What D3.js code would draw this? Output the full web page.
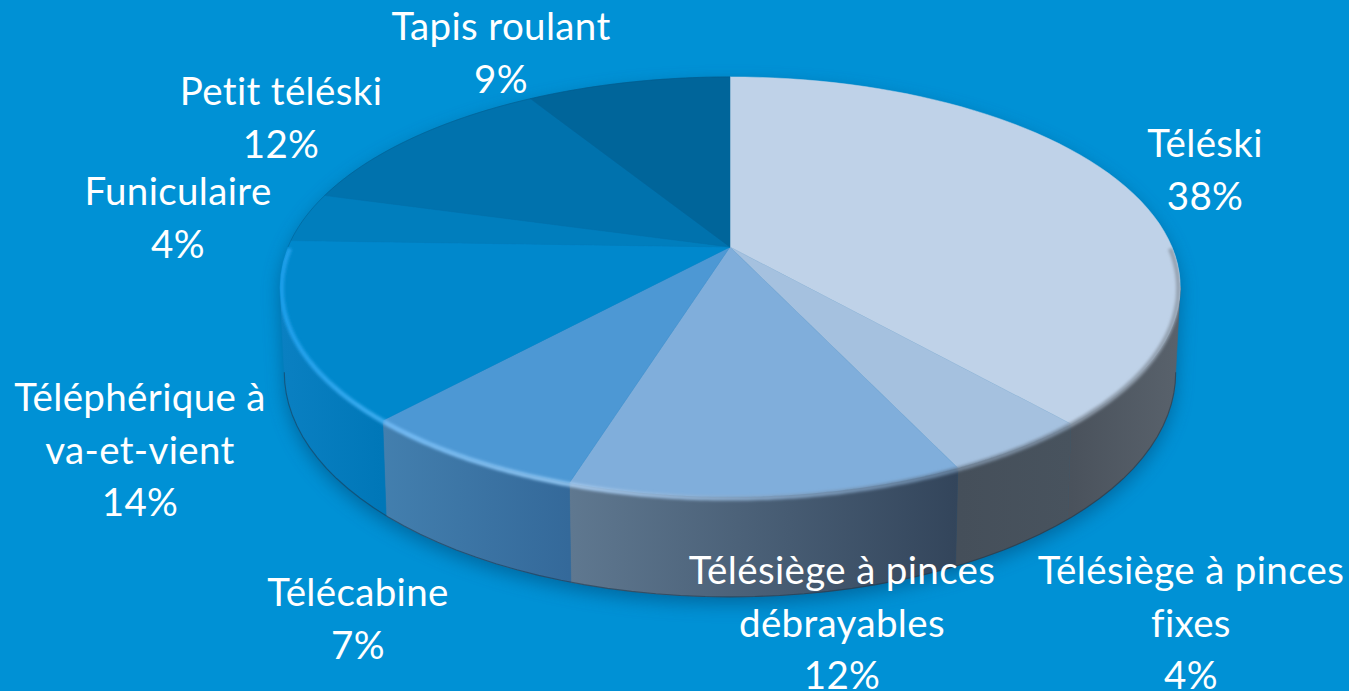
<!DOCTYPE html>
<html><head><meta charset="utf-8">
<style>html,body{margin:0;padding:0;background:#0091D5;overflow:hidden}svg{display:block}</style>
<script src="https://cdnjs.cloudflare.com/ajax/libs/d3/7.8.5/d3.min.js"></script>
</head><body><svg id="c" width="1349" height="691"></svg>
<script>
const categories = ["Téléski","Télésiège à pinces fixes","Télésiège à pinces débrayables","Télécabine","Téléphérique à va-et-vient","Funiculaire","Petit téléski","Tapis roulant"];
const labelLines = [["Téléski"],["Télésiège à pinces","fixes"],["Télésiège à pinces","débrayables"],["Télécabine"],["Téléphérique à","va-et-vient"],["Funiculaire"],["Petit téléski"],["Tapis roulant"]];
const values = [38.49,4.49,11.83,7.0,13.7,3.8,11.9,8.79];
const topColors = ["#BFD2E8","#A5C1DF","#80AEDB","#4D98D4","#0088CC","#007EBD","#0072AD","#00659A"];
const wallLeft  = ["#4A525C","#454F5A","#5F7890","#437FAE","#0A80C2","#0078B5","#0078B5","#0078B5"];
const wallRight = ["#59626C","#48535E","#33455B","#34699A","#0077B8","#0078B5","#0078B5","#0078B5"];
const rimLeft   = ["#8A97A6","#76889C","#A6CAEE","#70BAF5","#1FA0EC","#1A96DC","#0078B5","#0078B5"];
const rimRight  = ["#94A1B0","#7C8EA2","#64809E","#8FC4F0","#3FAFF2","#1A96DC","#0078B5","#0078B5"];
const labelX = [1205,1191,842,358,140,178,281,501];
const labelY = [157,584,584,606,411,205,105,40];
const lineStep = 52.6;

const W=1349,H=691,cx=730,cy=247,A=442,B=202.4,k=-0.19,xShrink=0.99,depthBase=82,depthFront=18;
const svg=d3.select("#c");
svg.append("rect").attr("width",W).attr("height",H).attr("fill","#0091D5");
const defs=svg.append("defs");
const blur=(id,s)=>defs.append("filter").attr("id",id).attr("x","-20%").attr("y","-20%").attr("width","140%").attr("height","140%").append("feGaussianBlur").attr("stdDeviation",s);
blur("b1",1.4);blur("b8",9);

const pie=d3.pie().sort(null).value(d=>d)(values);
// d3.pie angle p runs clockwise from the top; the disc is drawn under a perspective projection
const proj=p=>{const u=Math.sin(p),v=-Math.cos(p),w=1+k*v;return [cx+A*u/w,cy+B*v/w,v];};
const projB=p=>{const [x,y,v]=proj(p);return [cx+(x-cx)*xShrink,y+depthBase+depthFront*v];};
const xy=p=>[p[0],p[1]];
const samples=(a,b)=>d3.range(0,61).map(i=>a+(b-a)*i/60);
const line=d3.line();
// the wall is visible between the two widest points of the projected ellipse
const frontFrom=Math.acos(k), frontTo=2*Math.PI-Math.acos(k);
const rimFrom=Math.PI/2, rimTo=3*Math.PI/2;

// disc silhouette, used for the ground shadow and to keep the bevel inside the disc
const sil=samples(frontFrom,frontTo).map(projB).concat(samples(frontTo,2*Math.PI+frontFrom).map(p=>xy(proj(p))));
svg.append("path").attr("d",line(sil)+"Z").attr("fill","#00507F").attr("opacity",.6).attr("filter","url(#b8)").attr("transform","translate(0,7)");
defs.append("clipPath").attr("id","disc").append("path").attr("d",line(sil)+"Z");

const grad=(id,x1,x2,c1,c2)=>{const g=defs.append("linearGradient").attr("id",id).attr("gradientUnits","userSpaceOnUse").attr("x1",x1).attr("x2",x2).attr("y1",0).attr("y2",0);
 g.append("stop").attr("offset",0).attr("stop-color",c1);g.append("stop").attr("offset",1).attr("stop-color",c2);};

// walls
pie.forEach((d,i)=>{
  const s=Math.max(d.startAngle,frontFrom), e=Math.min(d.endAngle,frontTo);
  if(e<=s) return;
  const up=samples(s,e).map(proj), lo=samples(s,e).map(projB).reverse();
  const xs=up.map(p=>p[0]);
  grad("w"+i,d3.min(xs),d3.max(xs),wallLeft[i],wallRight[i]);
  svg.append("path").attr("d",line(up.map(xy).concat(lo))+"Z").attr("fill",`url(#w${i})`).attr("stroke",`url(#w${i})`).attr("stroke-width",.6);
});
// bottom edge
svg.append("path").attr("d",line(samples(frontFrom,frontTo).map(projB))).attr("fill","none").attr("stroke","#1d3040").attr("stroke-opacity",.5).attr("stroke-width",1.1);

// top faces
pie.forEach((d,i)=>{
  const arc=samples(d.startAngle,d.endAngle).map(proj).map(xy);
  svg.append("path").attr("d",line([[cx,cy],...arc])+"Z").attr("fill",topColors[i]).attr("stroke",topColors[i]).attr("stroke-width",.5).attr("stroke-linejoin","round");
});
// soft back edge
svg.append("path").attr("d",line(samples(rimTo,2*Math.PI).map(proj).map(xy))).attr("fill","none").attr("stroke","#004F7C").attr("stroke-opacity",.35).attr("stroke-width",1);

// bevel along the front of the rim
const rg=svg.append("g").attr("clip-path","url(#disc)").append("g").attr("filter","url(#b1)");
pie.forEach((d,i)=>{
  const s=Math.max(d.startAngle,rimFrom), e=Math.min(d.endAngle,rimTo);
  if(e<=s) return;
  const band=samples(s,e).map(proj).map(p=>[cx+(p[0]-cx)*0.996,p[1]+1.5]);
  const xs=band.map(p=>p[0]);
  grad("r"+i,d3.min(xs),d3.max(xs),rimLeft[i],rimRight[i]);
  rg.append("path").attr("d",line(band)).attr("fill","none").attr("stroke",`url(#r${i})`).attr("stroke-width",4.5);
});

// labels
const fmt=d3.format(".0f");
categories.forEach((c,i)=>{
  const lines=[...labelLines[i],fmt(values[i])+"%"];
  const t=svg.append("text").attr("font-family","Lato, 'Open Sans', sans-serif").attr("font-size",38.5).attr("letter-spacing",.35).attr("fill","#fff").attr("text-anchor","middle").style("font-variant-ligatures","none");
  lines.forEach((l,j)=>t.append("tspan").attr("x",labelX[i]).attr("y",labelY[i]+j*lineStep).text(l));
});
</script></body></html>
